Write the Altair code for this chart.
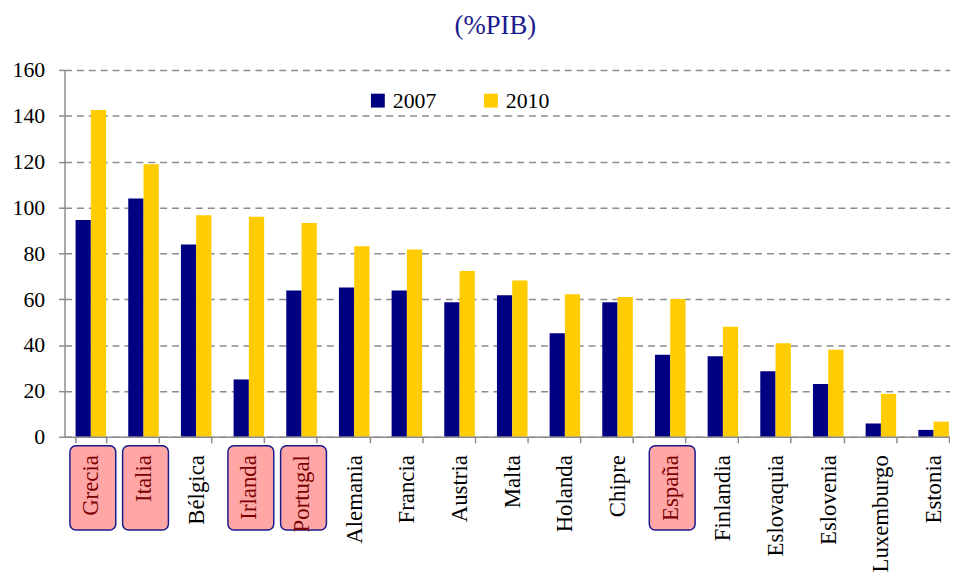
import altair as alt
import pandas as pd

countries = ["Grecia", "Italia", "Bélgica", "Irlanda", "Portugal", "Alemania", "Francia",
             "Austria", "Malta", "Holanda", "Chipre", "España", "Finlandia", "Eslovaquia",
             "Eslovenia", "Luxemburgo", "Estonia"]
v2007 = [94.5, 103.9, 83.8, 25.0, 63.8, 65.1, 63.8, 58.7, 61.7, 45.1, 58.7, 35.8, 35.1, 28.6, 23.0, 5.8, 3.0]
v2010 = [142.5, 118.9, 96.6, 95.9, 93.2, 83.1, 81.7, 72.3, 68.1, 62.2, 61.0, 60.1, 48.0, 40.8, 38.0, 18.7, 6.6]
years = ["2007", "2010"]
highlighted = ["Grecia", "Italia", "Irlanda", "Portugal", "España"]
y_ticks = [0, 20, 40, 60, 80, 100, 120, 140, 160]

rows = []
for c, a, b in zip(countries, v2007, v2010):
    rows.append({"country": c, "year": years[0], "value": a})
    rows.append({"country": c, "year": years[1], "value": b})
df = pd.DataFrame(rows)
df_hl = pd.DataFrame({"country": highlighted})

FONT = "Liberation Serif"
hl_expr = "indexof(" + str(highlighted).replace("'", "\"") + ", datum.value) >= 0 ? '#7a0000' : 'black'"

xscale = alt.Scale(domain=countries, range=[0, 903], paddingInner=0.42, paddingOuter=0.21)

xenc = alt.X("country:N", sort=countries, scale=xscale,
             axis=alt.Axis(title=None, labelAngle=-90, labelAlign="right", labelBaseline="middle",
                           labelFont=FONT, labelFontSize=23, labelPadding=12,
                           labelColor=alt.ExprRef(expr=hl_expr),
                           tickBand="extent", tickSize=6, tickColor="#8c8c8c",
                           domainColor="#8c8c8c", domainWidth=1.5, tickWidth=1.5,
                           labelOverlap=False, zindex=1))

boxes = alt.Chart(df_hl).mark_bar(
    width=alt.RelativeBandSize(1.5), fill="#ffa6a6", stroke="#1a1a8c", strokeWidth=1.5,
    cornerRadius=6, xOffset=2
).encode(
    x=xenc,
    y=alt.value(379),
    y2=alt.value(464),
)

bars = alt.Chart(df).mark_bar().encode(
    x=xenc,
    xOffset=alt.XOffset("year:N", sort=years),
    y=alt.Y("value:Q", scale=alt.Scale(domain=[0, 160], nice=False),
            axis=alt.Axis(title=None, values=y_ticks, labelFont=FONT, labelFontSize=22,
                          labelColor="black", labelPadding=14, tickSize=6, tickColor="#8c8c8c",
                          domainColor="#8c8c8c", domainWidth=1.5, tickWidth=1.5,
                          grid=True, gridColor="#8c8c8c", gridDash=[7, 5], gridWidth=1.5,
                          zindex=0)),
    color=alt.Color("year:N", sort=years,
                    scale=alt.Scale(domain=years, range=["#000080", "#ffcc00"]),
                    legend=alt.Legend(title=None, orient="none", legendX=305, legendY=20,
                                      direction="horizontal", columns=2, columnPadding=44,
                                      symbolType="square", symbolSize=196, symbolStrokeWidth=0,
                                      labelFont=FONT, labelFontSize=22, labelColor="black",
                                      labelOffset=4)),
)

chart = alt.layer(boxes, bars).properties(
    width=893,
    height=370,
    autosize=alt.AutoSizeParams(type="none"),
    padding={"left": 57, "top": 60, "right": 0, "bottom": 139},
    title=alt.TitleParams("(%PIB)", font=FONT, fontSize=27, fontWeight="normal",
                          color="#1a1a8c", anchor="middle", offset=19, dx=-12),
).configure(font=FONT).configure_view(stroke=None)

chart.save("out.html", embed_options={"renderer": "svg", "actions": False})
